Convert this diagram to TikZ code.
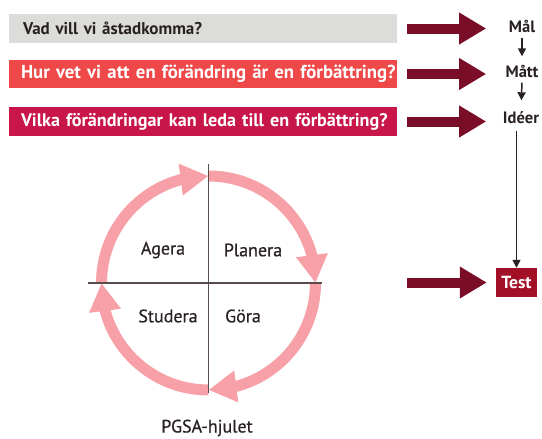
\documentclass[tikz,border=0pt]{standalone}
\usepackage{fontspec}
\setmainfont{PT Sans}
\newfontfamily\wheelfont[FakeBold=0.6]{PT Sans}
\usetikzlibrary{arrows.meta,bending}
\definecolor{boxgray}{HTML}{DCDCDB}
\definecolor{boxred}{HTML}{EF4848}
\definecolor{boxcrimson}{HTML}{C8164B}
\definecolor{maroon}{HTML}{7A0E28}
\definecolor{testred}{HTML}{A30F26}
\definecolor{wheelpink}{HTML}{F7A0A7}
\definecolor{inkdark}{HTML}{2A2222}
\definecolor{axisgray}{HTML}{5A4C4C}
\tikzset{
  qbox/.style={minimum width=388pt, minimum height=29pt, inner xsep=4pt, inner ysep=0pt,
    text width=380pt, align=left, font=\bfseries\fontsize{18.6}{18.6}\selectfont},
  rlabel/.style={inner sep=1pt, text height=12pt, text depth=3pt, text=inkdark,
    font=\bfseries\fontsize{16.5}{16.5}\selectfont},
  wlabel/.style={inner sep=0pt, text=inkdark, font=\wheelfont\fontsize{18}{18}\selectfont},
  bigarrow/.style={draw=maroon, line width=10pt, -{Triangle[width=30pt,length=27pt]}},
  smallarrow/.style={draw=inkdark, line width=1.5pt, -{Triangle[width=8pt,length=8pt]}},
  wheelarc/.style={draw=wheelpink, line width=11pt, -{Triangle[width=30pt,length=28pt,flex]}},
  axis/.style={draw=axisgray, line width=1.1pt}
}
\begin{document}
\begin{tikzpicture}[x=1pt,y=-1pt]
\useasboundingbox[fill=white] (0,0) rectangle (542,439);
% question boxes
\node[qbox, fill=boxgray, text=inkdark, font=\bfseries\fontsize{17}{17}\selectfont] (b1) at (203,28.5) {\mbox{\hspace*{10pt}Vad vill vi åstadkomma?}};
\node[qbox, fill=boxred, text=white, minimum height=28pt, font=\bfseries\fontsize{18.75}{18.75}\selectfont] (b2) at (203,74) {\mbox{\hspace*{8pt}Hur vet vi att en förändring är en förbättring?}};
\node[qbox, fill=boxcrimson, text=white, font=\bfseries\fontsize{18.15}{18.15}\selectfont] (b3) at (203,121.5) {\mbox{\hspace*{8pt}Vilka förändringar kan leda till en förbättring?}};
% right labels
\node[rlabel] (mal) at (522,28) {Mål};
\node[rlabel] (matt) at (522,73) {Mått};
\node[rlabel] (ideer) at (521,119) {Idéer};
\node[fill=testred, text=white, minimum width=41pt, minimum height=29pt, inner sep=0pt,
  font=\bfseries\fontsize{17.5}{17.5}\selectfont] (test) at (516.5,282.5) {Test};
\coordinate (tstart) at (407,282.5);
% big arrows
\draw[bigarrow] ([xshift=10pt]b1.east) -- ([xshift=89pt]b1.east);
\draw[bigarrow] ([xshift=10pt]b2.east) -- ([xshift=89pt]b2.east);
\draw[bigarrow] ([xshift=10pt]b3.east) -- ([xshift=89pt]b3.east);
\draw[bigarrow, shorten >=9pt] (tstart) -- (test.west);
% small arrows
\draw[smallarrow, shorten <=1pt, shorten >=8pt] (mal.south) -- (matt.north);
\draw[smallarrow, shorten <=1pt, shorten >=10pt] (matt.south) -- (ideer.north);
\draw[smallarrow, shorten <=3pt] (ideer.south -| test.north) -- (test.north);
% wheel
\coordinate (c) at (208.5,283);
\draw[wheelarc] (c) ++(180:107) arc[start angle=180, end angle=270, radius=107];
\draw[wheelarc] (c) ++(270:107) arc[start angle=270, end angle=360, radius=107];
\draw[wheelarc] (c) ++(0:107) arc[start angle=0, end angle=90, radius=107];
\draw[wheelarc] (c) ++(90:107) arc[start angle=90, end angle=180, radius=107];
\coordinate (hl) at (88,283);
\coordinate (hr) at (322,283);
\coordinate (vt) at (208.5,164);
\coordinate (vb) at (208.5,393);
\draw[axis] (hl) -- (hr);
\draw[axis] (vt) -- (vb);
\node[wlabel] (agera) at (163,250) {Agera};
\node[wlabel] (planera) at (253,250) {Planera};
\node[wlabel] (studera) at (168,316) {Studera};
\node[wlabel] (gora) at (243,316) {Göra};
\node[wlabel] (pgsa) at (207,428) {PGSA-hjulet};
\end{tikzpicture}
\end{document}
